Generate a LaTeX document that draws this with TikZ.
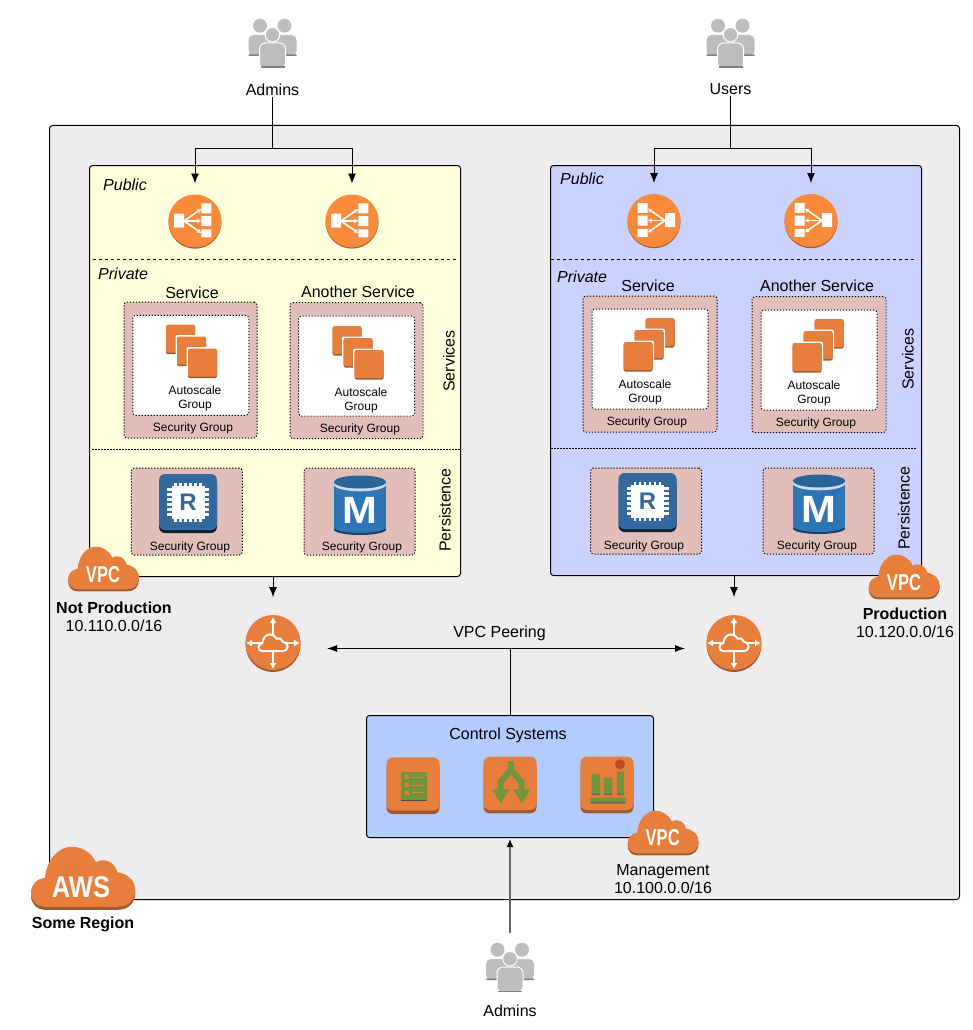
\documentclass[tikz,border=0pt]{standalone}
\usepackage{fontspec}
\setmainfont{Liberation Sans}
\usetikzlibrary{arrows.meta,positioning}

\definecolor{regionfill}{HTML}{EEECEF}
\definecolor{npfill}{HTML}{FFFFDC}
\definecolor{prodfill}{HTML}{CCD2FF}
\definecolor{ctrlfill}{HTML}{B3CCFF}
\definecolor{sgfill}{HTML}{E2BEBA}
\definecolor{awsorange}{HTML}{E87E3B}
\definecolor{elborange}{HTML}{F88A3A}
\definecolor{awsbrown}{HTML}{9E5A30}
\definecolor{awsgreen}{HTML}{6F963C}
\definecolor{dbblue}{HTML}{2F74B5}
\definecolor{chipblue}{HTML}{34699F}
\definecolor{peoplegray}{HTML}{BDBDBD}

\newcommand{\cloudpath}{(-38,29.3) .. controls (-46.3,29.3) and (-52,22.7) .. (-52,15.3)
  .. controls (-52,7) and (-46.3,1.3) .. (-38,0.3)
  .. controls (-36.3,-18) and (-24.7,-30.7) .. (-11.3,-30.7)
  .. controls (0.3,-30.7) and (8.7,-24) .. (13,-15.3)
  .. controls (22,-20.7) and (32,-14.7) .. (34.3,-5.3)
  .. controls (45.3,-3.7) and (52.3,3.7) .. (52.3,12.7)
  .. controls (52.3,22) and (45.3,29.3) .. (35.3,29.3) -- cycle}
\newcommand{\tilebase}{%
  \fill[awsbrown, rounded corners=6pt] (-26.5,-24) rectangle (26.5,28.3);
  \fill[awsorange, rounded corners=6pt] (-26.5,-28.3) rectangle (26.5,24.8);}

\tikzset{
  spot/.style={inner sep=0pt, outer sep=0pt},
  txt/.style={inner sep=1pt, yshift=-1pt, font=\fontsize{16}{18}\selectfont, align=center},
  smalltxt/.style={inner sep=0pt, yshift=-1pt, font=\fontsize{12}{14}\selectfont, align=center},
  cloudtxt/.style={inner sep=0pt, text=white},
  zone/.style={draw=black, line width=1pt, rounded corners=3pt, inner sep=0pt},
  sgroup/.style={draw=black, line width=1pt, dash pattern=on 1.2pt off 1.8pt, rounded corners=3pt,
    fill=sgfill, inner sep=0pt, minimum width=#1},
  sgroup/.default=133pt,
  asg/.style={draw=black, line width=1pt, dash pattern=on 1.2pt off 1.8pt, rounded corners=3pt,
    fill=white, inner sep=0pt, minimum width=116pt, minimum height=100pt},
  wire/.style={line width=.9pt},
  flow/.style={wire, -{Latex[length=10pt,width=8pt]}},
  flowboth/.style={wire, {Latex[length=10pt,width=7pt]}-{Latex[length=10pt,width=7pt]}},
  peopleicon/.pic={
    \fill[peoplegray, rounded corners=5pt] (-24,13) -- (-24,-8) -- (24,-8) -- (24,13) -- cycle;
    \fill[gray] (-24,11.5) rectangle (-13,13) (13,11.5) rectangle (24,13);
    \fill[peoplegray] (-12.5,-17.3) circle (7) (12,-17.3) circle (7);
    \filldraw[fill=peoplegray, draw=white, line width=1pt, rounded corners=6pt]
      (-13,25.5) -- (-13,0) -- (13,0) -- (13,25.5) -- cycle;
    \fill[gray] (-12,23.5) rectangle (12,25);
    \filldraw[fill=peoplegray, draw=white, line width=1pt] (0,-8.3) circle (7.3);
  },
  elbicon/.pic={
    \fill[awsbrown] (0,1.2) circle (26.5);
    \fill[elborange] (0,0) circle (26.5);
    \fill[white] (-21,-7.5) rectangle (-11,6.5) (6.3,-17.7) rectangle (16.3,-7.7)
      (6.3,-5) rectangle (16.3,5) (6.3,8.3) rectangle (16.3,16.3);
    \foreach \ty in {-12,0,12}
      \draw[white, line width=1.6pt, -{Latex[length=4pt,width=5pt]}] (-11,0) -- (6.3,\ty);
  },
  igwicon/.pic={
    \fill[awsbrown] (0,1.5) circle (27.5);
    \fill[awsorange] (0,-.5) circle (27.5);
    \foreach \tx/\ty in {0/-26,0/26,-27/0,27/0}
      \draw[white, line width=1.8pt, -{Latex[length=6pt,width=7pt]}] (0,0) -- (\tx,\ty);
    \begin{scope}[scale=.28]
      \filldraw[draw=white, fill=awsorange, line width=2pt] \cloudpath;
    \end{scope}
  },
  stackicon/.pic={
    \foreach \o in {-1,0,1} {
      \begin{scope}[shift={(\o*11,\o*12)}]
        \fill[white, rounded corners=2pt] (-16,-16) rectangle (16,16);
        \fill[awsbrown, rounded corners=1.5pt] (-14.5,-13) rectangle (14.5,15);
        \fill[awsorange, rounded corners=1.5pt] (-14.5,-14.5) rectangle (14.5,13.5);
      \end{scope}
    }
  },
  chipicon/.pic={
    \fill[black!70!chipblue, rounded corners=6pt] (-29,-25) rectangle (29,29.5);
    \fill[chipblue, rounded corners=6pt] (-29,-29.5) rectangle (29,26.5);
    \foreach \p in {-12.5,-7.5,-2.5,2.5,7.5,12.5} {
      \draw[white, line width=2.6pt] (\p,-21) -- (\p,18) (-21,\p-1.5) -- (21,\p-1.5);
    }
    \fill[white] (-16.5,-18) rectangle (16.5,15);
  },
  dbicon/.pic={
    \fill[black!45!dbblue] (0,24.5) ellipse (26 and 5.5);
    \fill[dbblue] (0,22) ellipse (26 and 6);
    \fill[dbblue] (-26,-20) rectangle (26,22);
    \fill[white!75!dbblue] (0,-20.5) ellipse (26 and 6.8);
    \fill[black!15!dbblue] (0,-23) ellipse (26 and 6.5);
  },
  listicon/.pic={
    \tilebase
    \fill[awsgreen] (-12.3,-14) rectangle (14.3,15);
    \draw[black!70, line width=.7pt] (-12.3,15) -- (14.3,15);
    \foreach \ty in {-8.3,-.7,7} {
      \fill[awsorange] (-8,\ty-2) rectangle (-3.7,\ty+2);
      \draw[awsorange, line width=.9pt] (-1,\ty) -- (11,\ty);
    }
  },
  forkicon/.pic={
    \tilebase
    \draw[awsgreen, line width=6pt, line join=miter]
      (-9.3,6) -- (-9.3,-3) -- (.7,-15) -- (11.7,-3) -- (11.7,6);
    \draw[awsgreen, line width=6pt] (.7,-24) -- (.7,-14);
    \fill[awsgreen] (-18,4.3) -- (-.5,4.3) -- (-9.3,18.3) -- cycle
      (3,4.3) -- (20.5,4.3) -- (11.7,18.3) -- cycle;
  },
  barsicon/.pic={
    \tilebase
    \fill[awsgreen] (-15.3,-11) rectangle (-7,10) (-3,-7.3) rectangle (5.3,10)
      (10,-13.3) rectangle (17,10) (-17,12.7) rectangle (19,18.3);
    \fill[black!60] (-15.3,8.5) rectangle (-7,10) (-3,8.5) rectangle (5.3,10)
      (10,8.5) rectangle (17,10) (-17,16.8) rectangle (19,18.3);
    \fill[black!25!awsorange!80!red] (13,-20.7) circle (5);
  },
  cloudicon/.pic={
    \begin{scope}[yshift=-3pt]
      \fill[awsbrown] \cloudpath;
    \end{scope}
    \fill[awsorange] \cloudpath;
  },
}

\begin{document}
\begin{tikzpicture}[x=1pt, y=-1pt]
  \useasboundingbox (0,0) rectangle (973,1030);

  \node[zone, fill=regionfill, minimum width=910pt, minimum height=774pt] (region) at (504.5,512.5) {};
  \node[zone, fill=npfill, minimum width=371pt, minimum height=411pt] (npBox) at (275,371) {};
  \node[zone, fill=prodfill, minimum width=371pt, minimum height=410pt] (prodBox) at (736,370.5) {};
  \node[zone, fill=ctrlfill, minimum width=287pt, minimum height=122pt] (ctrlBox) at (510,776.5) {};

  \draw[wire, dashed] (93,259.5) -- (458,259.5);
  \draw[wire, dashed] (551,259.5) -- (917,259.5);
  \draw[wire, dash pattern=on 1.5pt off 1.5pt] (92,449.5) -- (460,449.5);
  \draw[wire, dash pattern=on 1.5pt off 1.5pt] (551,448.5) -- (917,448.5);

  % people
  \node[spot, minimum width=48pt, minimum height=50pt] (adminsTop) at (272.5,43) {};
  \node[spot, minimum width=48pt, minimum height=50pt] (usersTop) at (730.5,43) {};
  \node[spot, minimum width=48pt, minimum height=50pt] (adminsLow) at (510,967) {};
  \pic at (adminsTop) {peopleicon};
  \pic at (usersTop) {peopleicon};
  \pic at (adminsLow) {peopleicon};
  \node[txt, below=14pt of adminsTop] (adminsTopLbl) {Admins};
  \node[txt, below=13pt of usersTop] (usersTopLbl) {Users};
  \node[txt, below=11pt of adminsLow] (adminsLowLbl) {Admins};

  % load balancers
  \node[spot, minimum size=53pt] (elbA) at (195,221) {};
  \node[spot, minimum size=53pt] (elbB) at (352,221) {};
  \node[spot, minimum size=53pt] (elbC) at (654,220.5) {};
  \node[spot, minimum size=53pt] (elbD) at (811,220.5) {};
  \pic at (elbA) {elbicon};
  \pic at (elbB) {elbicon};
  \pic[xscale=-1] at (elbC) {elbicon};
  \pic[xscale=-1] at (elbD) {elbicon};

  \node[txt, anchor=west, font=\fontsize{16}{18}\selectfont\itshape] (npPublic) at (102,184) {Public};
  \node[txt, anchor=west, font=\fontsize{16}{18}\selectfont\itshape] (npPrivate) at (97,273) {Private};
  \node[txt, anchor=west, font=\fontsize{16}{18}\selectfont\itshape] (prodPublic) at (559,178) {Public};
  \node[txt, anchor=west, font=\fontsize{16}{18}\selectfont\itshape] (prodPrivate) at (556,276) {Private};
  \node[txt] (svcA) at (192,292) {Service};
  \node[txt] (svcB) at (358,291) {Another Service};
  \node[txt] (svcC) at (648,285) {Service};
  \node[txt] (svcD) at (817,285) {Another Service};
  \node[txt, rotate=90] (svcLblA) at (449,360) {Services};
  \node[txt, rotate=90] (perLblA) at (445,509) {Persistence};
  \node[txt, rotate=90] (svcLblB) at (908,358) {Services};
  \node[txt, rotate=90] (perLblB) at (904,507) {Persistence};

  % security groups
  \node[sgroup, minimum height=136pt] (sgA) at (190.5,370) {};
  \node[sgroup, minimum height=136pt] (sgB) at (356.5,370.7) {};
  \node[sgroup=134pt, minimum height=136pt] (sgC) at (650,364) {};
  \node[sgroup=134pt, minimum height=136pt] (sgD) at (819,364.7) {};
  \node[sgroup=111pt, minimum height=87pt] (sgE) at (186.8,511.5) {};
  \node[sgroup=111pt, minimum height=87pt] (sgF) at (359.5,511.5) {};
  \node[sgroup=111pt, minimum height=86pt] (sgG) at (646,511) {};
  \node[sgroup=111pt, minimum height=86pt] (sgH) at (818.5,511) {};
  \node[asg] (asgA) at (190.8,365.3) {};
  \node[asg] (asgB) at (356.7,366) {};
  \node[asg] (asgC) at (650,359) {};
  \node[asg] (asgD) at (819,360) {};
  \pic at (191.5,351) {stackicon};
  \pic at (358,352.5) {stackicon};
  \pic[xscale=-1] at (649,344.5) {stackicon};
  \pic[xscale=-1] at (818,345.5) {stackicon};

  \node[smalltxt] (asgTxtA) at (195,397.5) {Autoscale\\Group};
  \node[smalltxt] (asgTxtB) at (361,399) {Autoscale\\Group};
  \node[smalltxt] (asgTxtC) at (645,391) {Autoscale\\Group};
  \node[smalltxt] (asgTxtD) at (814,392) {Autoscale\\Group};
  \node[smalltxt] (sgTxtA) at (193,427.5) {Security Group};
  \node[smalltxt] (sgTxtB) at (360,428.5) {Security Group};
  \node[smalltxt] (sgTxtC) at (647,421) {Security Group};
  \node[smalltxt] (sgTxtD) at (816,422) {Security Group};
  \node[smalltxt] (sgTxtE) at (190,546) {Security Group};
  \node[smalltxt] (sgTxtF) at (362,546) {Security Group};
  \node[smalltxt] (sgTxtG) at (644,545) {Security Group};
  \node[smalltxt] (sgTxtH) at (817,545) {Security Group};

  % persistence
  \pic at (188,503.5) {chipicon};
  \pic at (647.5,502.5) {chipicon};
  \pic at (360,505) {dbicon};
  \pic at (819,504) {dbicon};
  \node[cloudtxt, text=chipblue, font=\fontsize{24}{24}\selectfont\bfseries] (chipR) at (188,502) {R};
  \node[cloudtxt, text=chipblue, font=\fontsize{24}{24}\selectfont\bfseries] (chipS) at (647.5,501) {R};
  \node[cloudtxt, font=\fontsize{38}{38}\selectfont\bfseries, xscale=1.1] (dbM) at (360,510.5) {M};
  \node[cloudtxt, font=\fontsize{38}{38}\selectfont\bfseries, xscale=1.1] (dbN) at (819,509.5) {M};

  % gateways
  \node[spot, minimum size=55pt] (igwA) at (273,643) {};
  \node[spot, minimum size=55pt] (igwB) at (734,643) {};
  \pic at (igwA) {igwicon};
  \pic at (igwB) {igwicon};
  \coordinate (peerMid) at (510.5,648.5);
  \node[txt] (peerLbl) at (499.5,632.5) {VPC Peering};

  % control systems
  \node[txt] (ctrlLbl) at (508,734) {Control Systems};
  \pic at (413,785.7) {listicon};
  \pic at (510,785) {forkicon};
  \pic at (607,785) {barsicon};

  % connectors
  \coordinate (adminsSplit) at (272.5,148.5);
  \coordinate (usersSplit) at (730.5,148.5);
  \draw[wire] (adminsTopLbl) -- (adminsSplit);
  \draw[wire] (usersTopLbl) -- (usersSplit);
  \draw[flow, shorten >=11pt] (adminsSplit) -| (elbA);
  \draw[flow, shorten >=11pt] (adminsSplit) -| (elbB);
  \draw[flow, shorten >=11pt] (usersSplit) -| (elbC);
  \draw[flow, shorten >=11pt] (usersSplit) -| (elbD);
  \draw[flow, shorten >=18.5pt] (npBox.south -| igwA) -- (igwA);
  \draw[flow, shorten >=18.5pt] (prodBox.south -| igwB) -- (igwB);
  \draw[flowboth, shorten <=54pt, shorten >=49pt] (igwA |- peerMid) -- (igwB |- peerMid);
  \draw[wire] (peerMid) -- (peerMid |- ctrlBox.north);
  \draw[line width=1.5pt, draw=black!60, -{Latex[length=8pt,width=7pt,color=black]},
    shorten <=9pt, shorten >=1pt] (adminsLow) -- (adminsLow |- ctrlBox.south);

  % clouds
  \pic[xscale=.68, yscale=.71] at (103.5,568.5) {cloudicon};
  \pic[xscale=.68, yscale=.71] at (904,576.5) {cloudicon};
  \pic[xscale=.68, yscale=.71] at (663,832.5) {cloudicon};
  \pic at (83,877.5) {cloudicon};
  \node[cloudtxt, font=\fontsize{23}{23}\selectfont\bfseries, xscale=.72] (vpcA) at (103,575) {VPC};
  \node[cloudtxt, font=\fontsize{23}{23}\selectfont\bfseries, xscale=.72] (vpcB) at (904,582.5) {VPC};
  \node[cloudtxt, font=\fontsize{23}{23}\selectfont\bfseries, xscale=.72] (vpcC) at (662.7,838) {VPC};
  \node[cloudtxt, font=\fontsize{30}{30}\selectfont\bfseries, xscale=.85] (awsTxt) at (81,887) {AWS};

  \node[txt] (npLbl) at (114,616) {\textbf{Not Production}\\10.110.0.0/16};
  \node[txt] (prodLbl) at (905,622) {\textbf{Production}\\10.120.0.0/16};
  \node[txt] (mgmtLbl) at (663,878) {Management\\10.100.0.0/16};
  \node[txt, font=\fontsize{16}{18}\selectfont\bfseries] (regionLbl) at (83,923) {Some Region};
\end{tikzpicture}
\end{document}
